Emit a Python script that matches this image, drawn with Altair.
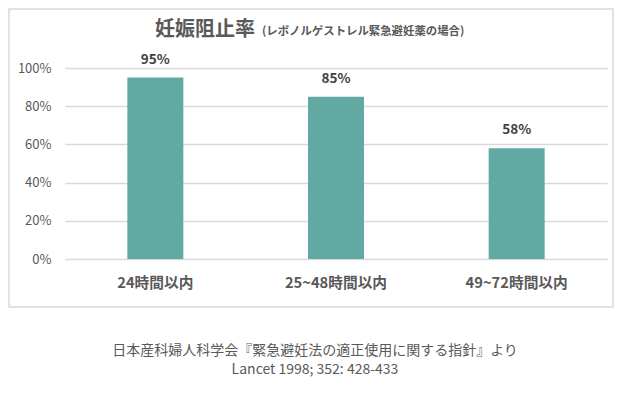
import altair as alt
import pandas as pd

categories = ["24時間以内", "25~48時間以内", "49~72時間以内"]
values = [0.95, 0.85, 0.58]
labels = ["95%", "85%", "58%"]
y_ticks = [0.0, 0.2, 0.4, 0.6, 0.8, 1.0]

title_main = "妊娠阻止率"
title_sub = "(レボノルゲストレル緊急避妊薬の場合)"
source_1 = "日本産科婦人科学会『緊急避妊法の適正使用に関する指針』より"
source_2 = "Lancet 1998; 352: 428-433"

df = pd.DataFrame({"cat": categories, "val": values, "label": labels})

FONT = "Noto Sans CJK JP"
W, H = 542, 191

x = alt.X("cat:N", sort=categories, title=None,
          scale=alt.Scale(paddingInner=0, paddingOuter=0),
          axis=alt.Axis(labelAngle=0, labelFontSize=14.7, labelFontWeight="bold",
                        labelColor="#595959", labelFont=FONT, ticks=False,
                        domain=False, labelPadding=16, grid=False))
y = alt.Y("val:Q", title=None,
          scale=alt.Scale(domain=[0, 1], nice=False),
          axis=alt.Axis(values=y_ticks, format=".0%", labelFontSize=13,
                        labelColor="#595959", labelFont=FONT, ticks=False,
                        labelOverlap=False, tickCount=6,
                        domain=False, labelPadding=14, gridColor="#d9d9d9",
                        gridWidth=1.5))

base = alt.Chart(df)
bars = base.mark_bar(size=56, color="#63a9a3").encode(x=x, y=y)
vals = base.mark_text(dy=-14, baseline="alphabetic", fontSize=13.5, fontWeight="bold",
                      color="#404040", font=FONT).encode(x=x, y=y, text="label:N")

frame = alt.Chart(pd.DataFrame({"a": [0]})).mark_rect(
    fill=None, stroke="#d9d9d9", strokeWidth=1.5).encode(
    x=alt.value(-56), x2=alt.value(W + 6), y=alt.value(-59), y2=alt.value(239))

txt = pd.DataFrame({"a": [0]})
t1 = alt.Chart(txt).mark_text(text=title_main, fontSize=20, fontWeight="bold",
                              color="#595959", font=FONT, align="left",
                              baseline="alphabetic").encode(
    x=alt.value(90), y=alt.value(-32))
t2 = alt.Chart(txt).mark_text(text=title_sub, fontSize=11.4, fontWeight="bold",
                              color="#595959", font=FONT, align="left",
                              baseline="alphabetic").encode(
    x=alt.value(197), y=alt.value(-33))
s1 = alt.Chart(txt).mark_text(text=source_1, fontSize=14, color="#595959",
                              font=FONT, align="center", baseline="middle").encode(
    x=alt.value(250), y=alt.value(283))
s2 = alt.Chart(txt).mark_text(text=source_2, fontSize=14, color="#595959",
                              font=FONT, align="center", baseline="middle").encode(
    x=alt.value(250), y=alt.value(302))

chart = alt.layer(bars, vals, frame, t1, t2, s1, s2).properties(
    width=W, height=H,
    background="white",
    autosize=alt.AutoSizeParams(type="none"),
    padding={"left": 57, "top": 60, "right": 7, "bottom": 124},
).configure_view(strokeWidth=0, stroke=None)

chart.save("out.html", embed_options={"renderer": "svg", "actions": False})
